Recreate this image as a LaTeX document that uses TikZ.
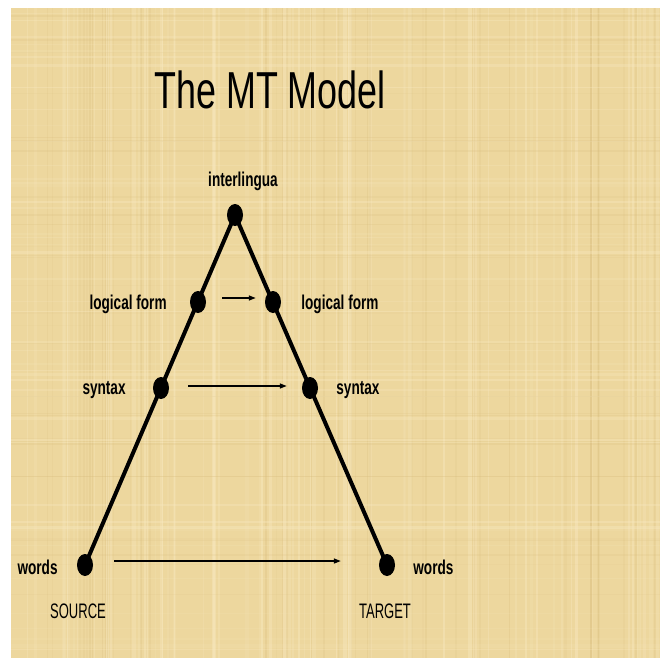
\documentclass[tikz,border=0pt]{standalone}
\usepackage{fontspec}
\setmainfont{Liberation Sans}
\newfontfamily\titlefont{Liberation Sans}[FakeStretch=0.69]
\newfontfamily\labelfont{Liberation Sans}[FakeStretch=0.68]
\newfontfamily\capsfont{Liberation Sans}[FakeStretch=0.62]
\usepackage{tikz}
\usetikzlibrary{positioning,shapes.geometric,arrows.meta}
\usepackage{xcolor}
\definecolor{parchment}{RGB}{237,215,158}
\definecolor{papyruslight}{RGB}{249,234,194}
\definecolor{papyrusdark}{RGB}{214,186,122}

\tikzset{
  stagedot/.style={ellipse, fill=black, inner sep=0pt, minimum width=16pt, minimum height=22pt},
  lbl/.style={font=\labelfont\bfseries\fontsize{20}{20}\selectfont, inner sep=0pt},
  sidelbl/.style={lbl, yshift=-2pt},
  endlbl/.style={font=\capsfont\fontsize{21}{21}\selectfont, inner sep=0pt, anchor=base},
  leg/.style={line width=4pt, line cap=round},
  transfer/.style={-{Triangle[length=7pt,width=5pt]}, line width=1.4pt},
}

\begin{document}
\begin{tikzpicture}[x=1pt, y=-1pt]
    \useasboundingbox (0,0) rectangle (660,658);
    \fill[white] (0,0) rectangle (660,658);

    % Papyrus background
    \begin{scope}
        \clip (11,8) rectangle (660,658);
        \fill[parchment] (11,8) rectangle (660,658);
        \pgfmathsetseed{42}
        \foreach \i in {1,...,70}{
            \pgfmathsetmacro{\xx}{11+649*rnd}
            \pgfmathsetmacro{\ww}{0.6+3.5*rnd}
            \pgfmathsetmacro{\oo}{0.12+0.3*rnd}
            \fill[papyruslight, opacity=\oo] (\xx,8) rectangle ++(\ww,650);
        }
        \foreach \i in {1,...,45}{
            \pgfmathsetmacro{\xx}{11+649*rnd}
            \pgfmathsetmacro{\ww}{0.5+2*rnd}
            \pgfmathsetmacro{\oo}{0.08+0.18*rnd}
            \fill[papyrusdark, opacity=\oo] (\xx,8) rectangle ++(\ww,650);
        }
        \foreach \i in {1,...,50}{
            \pgfmathsetmacro{\yy}{8+650*rnd}
            \pgfmathsetmacro{\hh}{0.5+2.5*rnd}
            \pgfmathsetmacro{\oo}{0.1+0.25*rnd}
            \fill[papyruslight, opacity=\oo] (11,\yy) rectangle ++(649,\hh);
        }
        \foreach \i in {1,...,30}{
            \pgfmathsetmacro{\yy}{8+650*rnd}
            \pgfmathsetmacro{\hh}{0.5+1.5*rnd}
            \pgfmathsetmacro{\oo}{0.06+0.15*rnd}
            \fill[papyrusdark, opacity=\oo] (11,\yy) rectangle ++(649,\hh);
        }
    \end{scope}

    % Title
    \node[font=\titlefont\fontsize{52}{52}\selectfont, anchor=base, inner sep=0pt] (title) at (270,108) {The MT Model};

    % Stages
    \node[stagedot] (il) at (235,215) {};
    \node[stagedot] (lfL) at (198,302) {};
    \node[stagedot] (lfR) at (273,302) {};
    \node[stagedot] (synL) at (161,388) {};
    \node[stagedot] (synR) at (310,388) {};
    \node[stagedot] (wL) at (85,565) {};
    \node[stagedot] (wR) at (387,565) {};

    \draw[leg] (il.center) -- (wL.center);
    \draw[leg] (il.center) -- (wR.center);

    % Labels
    \node[lbl, anchor=base] (ilLabel) at (243,186) {interlingua};
    \node[sidelbl, left=23pt of lfL] (lfLLabel) {logical form};
    \node[sidelbl, right=20pt of lfR] (lfRLabel) {logical form};
    \node[sidelbl, left=27pt of synL] (synLLabel) {syntax};
    \node[sidelbl, right=18pt of synR] (synRLabel) {syntax};
    \node[sidelbl, left=19pt of wL] (wLLabel) {words};
    \node[sidelbl, right=18pt of wR] (wRLabel) {words};
    \node[endlbl] (src) at (78,618) {SOURCE};
    \node[endlbl] (tgt) at (385,618) {TARGET};

    % Transfer arrows
    \draw[transfer, shorten <=16pt, shorten >=9pt] ([yshift=4pt]lfL.east) -- ([yshift=4pt]lfR.west);
    \draw[transfer, shorten <=19pt, shorten >=15pt] ([yshift=2pt]synL.east) -- ([yshift=2pt]synR.west);
    \draw[transfer, shorten <=21pt, shorten >=38pt] ([yshift=4pt]wL.east) -- ([yshift=4pt]wR.west);
\end{tikzpicture}
\end{document}
